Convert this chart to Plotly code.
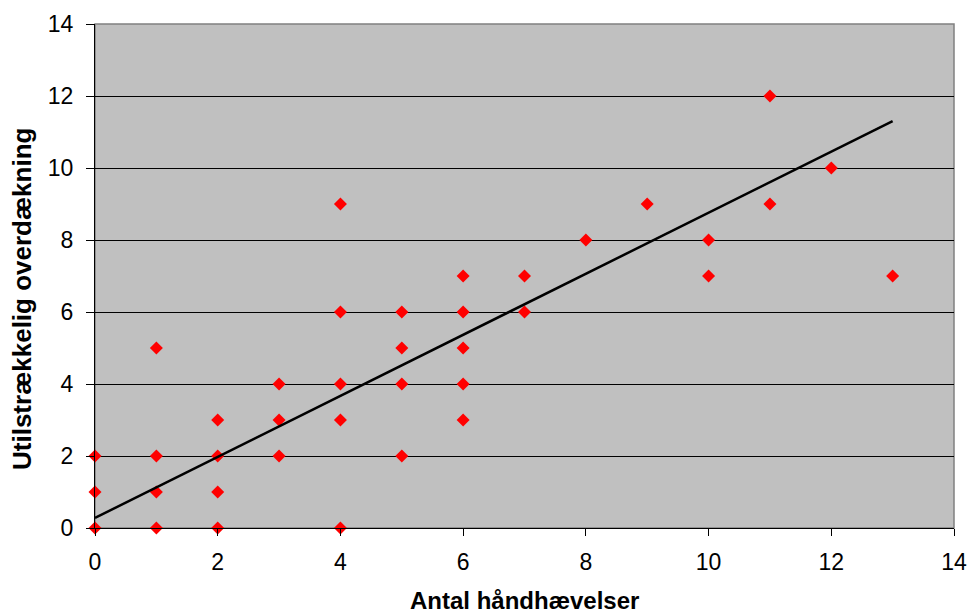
import plotly.graph_objects as go

x_vals = [0, 0, 0, 1, 1, 1, 1, 2, 2, 2, 2, 3, 3, 3, 4, 4, 4, 4, 4,
          5, 5, 5, 5, 6, 6, 6, 6, 6, 7, 7, 8, 9, 10, 10, 11, 11, 12, 13]
y_vals = [0, 1, 2, 0, 1, 2, 5, 0, 1, 2, 3, 2, 3, 4, 0, 3, 4, 6, 9,
          2, 4, 5, 6, 3, 4, 5, 6, 7, 6, 7, 8, 9, 7, 8, 9, 12, 10, 7]
trend_x = [0, 13]
trend_y = [0.28, 11.3]
tick_vals = [0, 2, 4, 6, 8, 10, 12, 14]
x_title = "Antal håndhævelser"
y_title = "Utilstrækkelig overdækning"

fig = go.Figure()
fig.add_trace(go.Scatter(x=x_vals, y=y_vals, mode="markers",
                         marker=dict(symbol="diamond", size=10, color="#FF0000",
                                     line=dict(width=0)),
                         showlegend=False, cliponaxis=False))
fig.add_trace(go.Scatter(x=trend_x, y=trend_y, mode="lines",
                         line=dict(color="black", width=2.5),
                         showlegend=False))

font = "Liberation Sans, Arial, sans-serif"
fig.update_layout(
    width=968, height=614,
    margin=dict(l=95, r=14, t=24, b=86),
    paper_bgcolor="white", plot_bgcolor="#C0C0C0",
    font=dict(family=font, size=23, color="black"),
    shapes=[dict(type="rect", xref="paper", yref="paper", x0=0, y0=0, x1=1, y1=1,
                 line=dict(color="#808080", width=1.5), layer="below")],
    annotations=[
        dict(text="<b>" + x_title + "</b>", xref="paper", yref="paper", x=0.5, y=0,
             xanchor="center", yanchor="middle", yshift=-72, showarrow=False,
             font=dict(size=24, family=font)),
        dict(text="<b>" + y_title + "</b>", xref="paper", yref="paper", x=0, y=0.4544,
             xanchor="center", yanchor="middle", xshift=-73, textangle=-90,
             showarrow=False, font=dict(size=26, family=font)),
    ],
)
fig.update_xaxes(range=[0, 14], tickvals=tick_vals, showgrid=False, zeroline=False,
                 showline=True, linecolor="black", linewidth=1.2, automargin=False,
                 ticks="outside", ticklen=7, tickcolor="black", ticklabelstandoff=6,
                 tickfont=dict(size=23, family=font))
fig.update_yaxes(range=[0, 14], tickvals=tick_vals, showgrid=True, gridcolor="black",
                 gridwidth=1, zeroline=False, automargin=False,
                 showline=True, linecolor="black", linewidth=1.2,
                 ticks="outside", ticklen=8, tickcolor="black", ticklabelstandoff=8,
                 tickfont=dict(size=23, family=font))

fig.write_html("out.html", config={"displayModeBar": False},
               post_script="document.body.style.margin='0';document.body.style.overflow='hidden';")
